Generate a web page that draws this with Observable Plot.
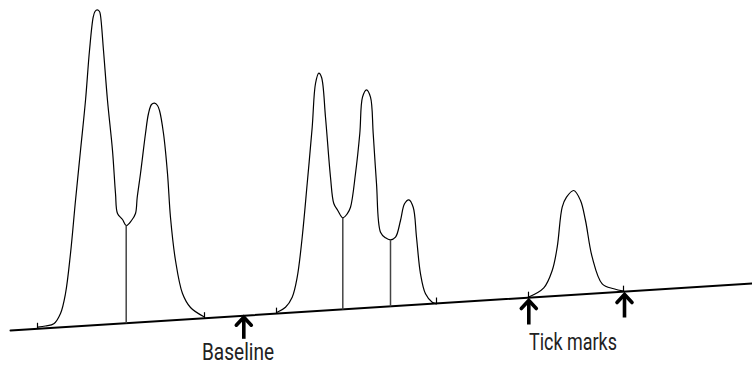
<!DOCTYPE html>
<html>
<head>
<meta charset="utf-8">
<script src="https://cdn.jsdelivr.net/npm/d3@7"></script>
<script src="https://cdn.jsdelivr.net/npm/@observablehq/plot@0.6"></script>
<style>
  html, body { margin: 0; padding: 0; background: #fff; }
  #chart svg { display: block; }
</style>
</head>
<body>
<div id="chart"></div>
<script>
// Baseline (time, signal)
const baselineTime = [10, 752];
const baselineSignal = [35, 82];

// Peak group 1
const g1Time = [37.3, 45, 53.3, 60, 65, 70, 75, 80, 85, 89, 92.7, 94.5, 96.7, 99, 100, 103, 107, 112, 115, 117, 122, 125.7, 131, 135, 136.7, 140, 145, 148, 151, 154, 157, 159, 163, 167, 170, 175, 182, 190, 203];
const g1Signal = [38.3, 39.5, 41.7, 52, 72, 112, 165, 215, 265, 315, 348.3, 354, 355.7, 354, 350, 315, 265, 215, 172, 152, 146, 140, 145, 152, 168, 192, 232, 252, 261, 262.3, 260, 255, 232, 192, 148, 105, 72, 58, 49];

// Peak group 2
const g2Time = [276.7, 285, 291.7, 296.7, 301.7, 306.7, 311.7, 315, 318.3, 321, 325, 330, 333.3, 337.3, 342.3, 346.7, 350, 355, 359.3, 362, 366, 370, 372.7, 376, 380, 385, 390, 395, 400, 404, 408.3, 412.7, 416, 420, 425, 431.7, 436];
const g2Signal = [53.3, 58.3, 68.3, 88.3, 128.3, 182, 238.3, 282, 292.3, 288.3, 248.3, 188.3, 162, 155, 147.7, 151.7, 158.3, 192, 232, 268.3, 275.7, 268.3, 232, 182, 133.3, 127.7, 125.7, 128.3, 145, 161.7, 165.7, 158.3, 128.3, 91.7, 71.7, 63.3, 61.7];

// Peak group 3
const g3Time = [527.7, 543.3, 551.7, 556.7, 561.7, 566, 573.3, 580, 585, 591.7, 601.7, 613.3, 623.3];
const g3Signal = [68.3, 77.7, 95, 118.3, 158.3, 168.3, 175, 165, 145, 108.3, 81.7, 76.7, 74.3];

// Tick marks (start/end of each group)
const tickTime = [37, 204, 276, 436, 528, 623];
// Drop lines at valleys
const dropTime = [125.7, 342.3, 390];
const dropTop = [140, 147.7, 125.7];

// Annotation arrows
const arrowTime = [243.3, 528.3, 624];
const arrowTip = [48.3, 65, 71];
const arrowTail = [26.7, 41, 48];

// Labels
const labelText = ["Baseline", "Tick marks"];
const labelTime = [237.5, 572.5];
const labelSignal = [12.5, 22.5];
const labelWidth = [72, 88];

const baseAt = t => baselineSignal[0] + (t - baselineTime[0]) * (baselineSignal[1] - baselineSignal[0]) / (baselineTime[1] - baselineTime[0]);

const toPts = (ts, ss) => ts.map((t, i) => ({t, s: ss[i]}));
const traces = [toPts(g1Time, g1Signal), toPts(g2Time, g2Signal), toPts(g3Time, g3Signal)];
const ticks = tickTime.map(t => ({t, s1: baseAt(t), s2: baseAt(t) + 6}));
const drops = dropTime.map((t, i) => ({t, s1: baseAt(t), s2: dropTop[i]}));
const shafts = arrowTime.map((t, i) => ({t, tip: arrowTip[i] - 2, tail: arrowTail[i]}));
const HW = 7.5, HL = 8; // arrow head half-width and length (data units = px)
const heads = arrowTime.map((t, i) => [
  {t: t - HW, s: arrowTip[i] - HL}, {t, s: arrowTip[i]}, {t: t + HW, s: arrowTip[i] - HL}
]);
const labels = labelText.map((text, i) => ({text, t: labelTime[i], s: labelSignal[i]}));

const chart = Plot.plot({
  width: 752,
  height: 365,
  margin: 0,
  x: {domain: [0, 752], axis: null},
  y: {domain: [0, 365], axis: null},
  style: {background: "#fff"},
  marks: [
    Plot.line(toPts(baselineTime, baselineSignal), {x: "t", y: "s", stroke: "#000", strokeWidth: 2}),
    ...traces.map(d => Plot.line(d, {x: "t", y: "s", stroke: "#000", strokeWidth: 1.2, curve: "catmull-rom"})),
    Plot.link(ticks, {x1: "t", x2: "t", y1: "s1", y2: "s2", stroke: "#000", strokeWidth: 1.2}),
    Plot.link(drops, {x1: "t", x2: "t", y1: "s1", y2: "s2", stroke: "#444", strokeWidth: 1.5}),
    Plot.link(shafts, {x1: "t", x2: "t", y1: "tail", y2: "tip", stroke: "#000", strokeWidth: 3.6}),
    ...heads.map(h => Plot.line(h, {x: "t", y: "s", stroke: "#000", strokeWidth: 3.6, strokeLinejoin: "miter", strokeMiterlimit: 10})),
    Plot.text(labels, {x: "t", y: "s", text: "text", fontSize: 23, fill: "#222", fontFamily: "Roboto, 'DejaVu Sans Condensed', sans-serif", className: "lbl"})
  ]
});
// condense the labels to the reference's narrow face
chart.querySelectorAll("g.lbl text").forEach((el, i) => {
  el.setAttribute("textLength", labelWidth[i]);
  el.setAttribute("lengthAdjust", "spacingAndGlyphs");
});
document.getElementById("chart").appendChild(chart);
</script>
</body>
</html>
